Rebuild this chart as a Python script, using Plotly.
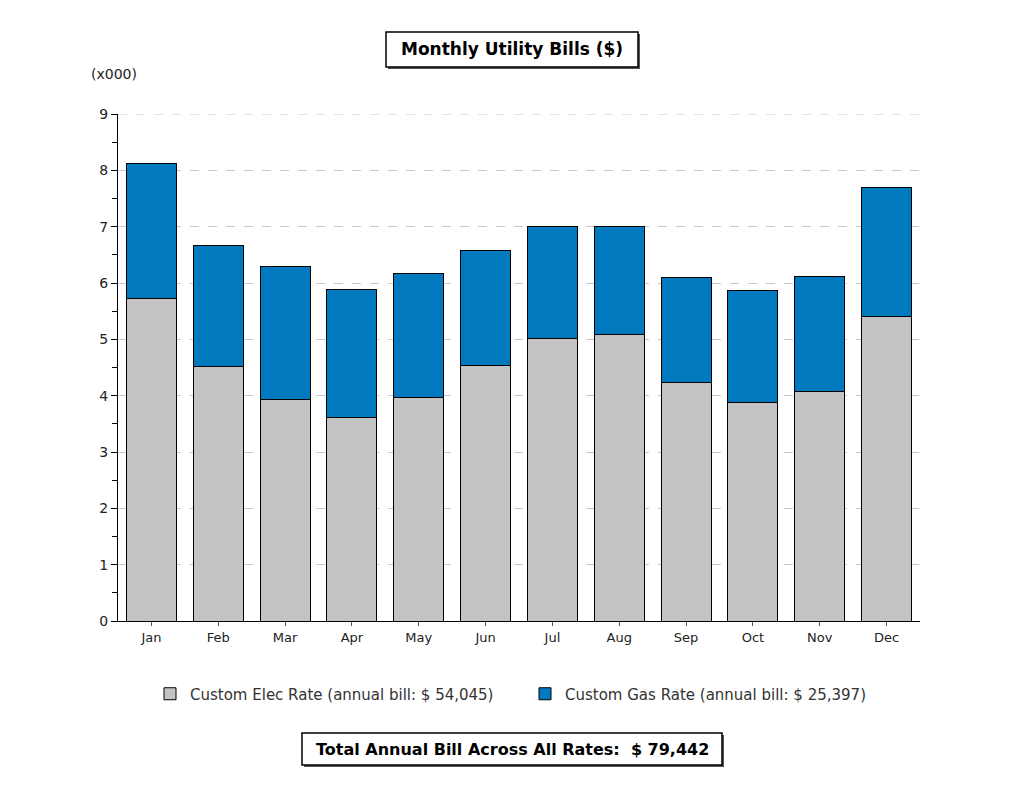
import plotly.graph_objects as go

months = ["Jan", "Feb", "Mar", "Apr", "May", "Jun", "Jul", "Aug", "Sep", "Oct", "Nov", "Dec"]
elec = [5.73, 4.51, 3.94, 3.62, 3.96, 4.54, 5.02, 5.09, 4.24, 3.87, 4.08, 5.40]
gas = [2.40, 2.16, 2.36, 2.26, 2.20, 2.03, 1.99, 1.92, 1.85, 1.99, 2.03, 2.29]
elec_name = "Custom Elec Rate (annual bill: $ 54,045)"
gas_name = "Custom Gas Rate (annual bill: $ 25,397)"
title_text = "Monthly Utility Bills ($)"
total_text = "Total Annual Bill Across All Rates:  $ 79,442"
y_ticks = list(range(0, 10))

FONT = "DejaVu Sans, Verdana, sans-serif"

fig = go.Figure()
fig.add_trace(go.Bar(x=months, y=elec, name=elec_name,
                     marker=dict(color="#C3C3C5", line=dict(color="#000000", width=1))))
fig.add_trace(go.Bar(x=months, y=gas, name=gas_name,
                     marker=dict(color="#0079BF", line=dict(color="#000000", width=1))))

# page body adds an 8px offset; compensate so plot area spans x 118-920, y 114-621 on screen
def px_x(px):
    return (px - 118) / (920 - 118)
def px_y(py):
    return (621 - py) / (621 - 114)

fig.update_layout(
    barmode="stack",
    bargap=0.25,
    width=1012, height=784,
    margin=dict(l=110, r=100, t=106, b=171),
    paper_bgcolor="white", plot_bgcolor="white",
    font=dict(family=FONT, size=13, color="#222222"),
    showlegend=True,
    legend=dict(orientation="h", x=px_x(150), xanchor="left", y=px_y(694), yanchor="middle",
                font=dict(size=15, color="#333333"), traceorder="normal",
                itemwidth=30, entrywidth=330),
    xaxis=dict(showline=True, linecolor="#000000", linewidth=1, ticks="outside",
               ticklen=4, tickcolor="#555555", showgrid=False,
               tickfont=dict(size=13, color="#222222")),
    yaxis=dict(range=[0, 9], tickvals=y_ticks, showline=True, linecolor="#000000",
               linewidth=1, ticks="outside", ticklen=6, tickcolor="#000000",
               showgrid=True, gridcolor="#C8C8C8", griddash="dash", gridwidth=1,
               zeroline=False, tickfont=dict(size=14, color="#222222"),
               minor=dict(dtick=0.5, ticks="outside", ticklen=5, tickcolor="#000000", showgrid=False)),
)

# top gridline at the axis maximum (plotly skips the grid at the range edge)
fig.add_hline(y=y_ticks[-1], line=dict(color="#C8C8C8", width=1, dash="dash"), layer="below")

for (x0, x1, y0, y1, txt, size) in [(386, 638, 32, 67, title_text, 17), (302, 722, 733, 765, total_text, 16)]:
    fig.add_shape(type="rect", xref="paper", yref="paper",
                  x0=px_x(x0 + 2), x1=px_x(x1 + 2), y0=px_y(y1 + 2), y1=px_y(y0 + 2),
                  line=dict(width=0), fillcolor="#555555", layer="above")
    fig.add_shape(type="rect", xref="paper", yref="paper",
                  x0=px_x(x0), x1=px_x(x1), y0=px_y(y1), y1=px_y(y0),
                  line=dict(color="#000000", width=1.5), fillcolor="white", layer="above")
    fig.add_annotation(xref="paper", yref="paper", x=px_x((x0 + x1) / 2), y=px_y((y0 + y1) / 2),
                       text="<b>" + txt + "</b>", showarrow=False, xanchor="center", yanchor="middle",
                       font=dict(family=FONT, size=size, color="#000000"))

fig.add_annotation(xref="paper", yref="paper", x=px_x(89), y=px_y(74), text="(x000)",
                   showarrow=False, xanchor="left", yanchor="middle",
                   font=dict(family=FONT, size=14, color="#222222"))

fig.write_html("out.html")
